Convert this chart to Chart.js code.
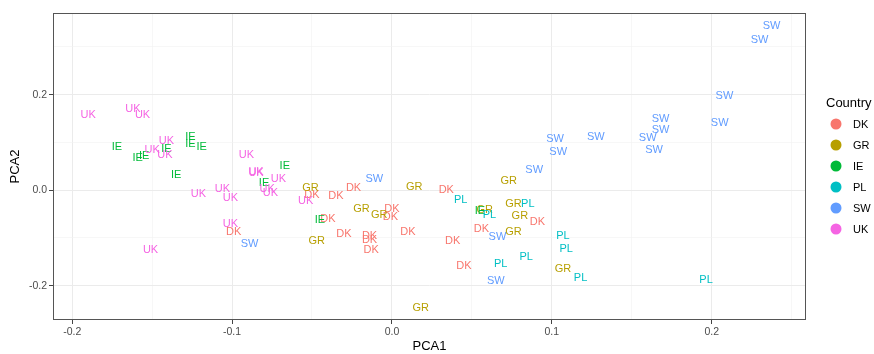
<!DOCTYPE html>
<html>
<head>
<meta charset="utf-8">
<script src="https://cdn.jsdelivr.net/npm/chart.js@4"></script>
<style>
  html, body { margin: 0; padding: 0; background: #fff; }
  #wrap { width: 874px; height: 354px; }
</style>
</head>
<body>
<div id="wrap"><canvas id="pcaChart" width="874" height="354"></canvas></div>
<script>
// PCA scores, one list of [PCA1, PCA2] per country
const countries = ['DK', 'GR', 'IE', 'PL', 'SW', 'UK'];
const colors = ['#F8766D', '#B79F00', '#00BA38', '#00BFC4', '#619CFF', '#F564E3'];

const dk = [[-0.050, -0.011], [-0.035, -0.013], [-0.024, 0.004], [0.034, 0.001], [0.000, -0.040],
  [-0.001, -0.056], [-0.040, -0.060], [-0.030, -0.091], [-0.014, -0.097], [-0.014, -0.105],
  [-0.013, -0.126], [0.010, -0.088], [0.038, -0.107], [0.045, -0.159], [0.091, -0.066],
  [0.056, -0.081], [-0.099, -0.088]];
const gr = [[-0.051, 0.004], [0.014, 0.006], [-0.019, -0.039], [-0.008, -0.053], [-0.047, -0.106],
  [0.018, -0.246], [0.073, 0.020], [0.058, -0.041], [0.076, -0.029], [0.080, -0.055],
  [0.076, -0.088], [0.107, -0.165]];
const ie = [[-0.172, 0.091], [-0.126, 0.111], [-0.126, 0.096], [-0.119, 0.091], [-0.141, 0.086],
  [-0.159, 0.067], [-0.155, 0.072], [-0.067, 0.051], [-0.135, 0.032], [-0.080, 0.016],
  [-0.045, -0.063], [0.055, -0.044]];
const pl = [[0.043, -0.020], [0.061, -0.053], [0.085, -0.030], [0.107, -0.095], [0.109, -0.124],
  [0.118, -0.184], [0.1965, -0.188], [0.068, -0.155], [0.084, -0.140]];
const sw = [[-0.011, 0.023], [-0.089, -0.112], [0.089, 0.043], [0.104, 0.080], [0.102, 0.107],
  [0.1275, 0.112], [0.160, 0.110], [0.164, 0.084], [0.168, 0.149], [0.168, 0.126],
  [0.205, 0.140], [0.208, 0.197], [0.230, 0.315], [0.2375, 0.343], [0.066, -0.098],
  [0.065, -0.191]];
const uk = [[-0.190, 0.158], [-0.162, 0.170], [-0.156, 0.158], [-0.141, 0.102], [-0.150, 0.084],
  [-0.142, 0.074], [-0.091, 0.074], [-0.085, 0.037], [-0.085, 0.036], [-0.071, 0.023],
  [-0.078, 0.003], [-0.076, -0.005], [-0.121, -0.008], [-0.106, 0.002], [-0.101, -0.016],
  [-0.054, -0.022], [-0.101, -0.071], [-0.151, -0.126]];
const scores = [dk, gr, ie, pl, sw, uk];

// axis breaks (major ones get labels)
const xTicks = [-0.2, -0.15, -0.1, -0.05, 0, 0.05, 0.1, 0.15, 0.2, 0.25];
const xLabels = ['-0.2', '', '-0.1', '', '0.0', '', '0.1', '', '0.2', ''];
const yTicks = [-0.2, -0.1, 0, 0.1, 0.2, 0.3];
const yLabels = ['-0.2', '', '0.0', '', '0.2', ''];

const FONT = '"Liberation Sans", Arial, Helvetica, sans-serif';

function gridColor(labels) {
  return ctx => labels[ctx.index] ? '#EBEBEB' : '#F2F2F2';
}
function gridWidth(labels) {
  return ctx => labels[ctx.index] ? 1 : 0.6;
}
function tickMark(labels) {
  return ctx => labels[ctx.index] ? '#444444' : 'rgba(0,0,0,0)';
}

// draw the country codes at each point, panel border and legend
const textLabels = {
  id: 'textLabels',
  afterDatasetsDraw(chart) {
    const ctx = chart.ctx;
    ctx.save();
    ctx.font = '11px ' + FONT;
    ctx.textAlign = 'center';
    ctx.textBaseline = 'middle';
    chart.data.datasets.forEach((ds, i) => {
      ctx.fillStyle = ds.borderColor;
      chart.getDatasetMeta(i).data.forEach(pt => ctx.fillText(ds.label, pt.x, pt.y));
    });
    ctx.restore();
  },
  afterDraw(chart) {
    const ctx = chart.ctx;
    const a = chart.chartArea;
    ctx.save();
    ctx.strokeStyle = '#555555';
    ctx.lineWidth = 1;
    ctx.strokeRect(Math.round(a.left) + 0.5, Math.round(a.top) + 0.5,
      Math.round(a.right - a.left) - 1, Math.round(a.bottom - a.top) - 1);

    // legend
    ctx.fillStyle = '#000';
    ctx.font = '13px ' + FONT;
    ctx.textAlign = 'left';
    ctx.textBaseline = 'middle';
    ctx.fillText('Country', 826, 103);
    ctx.font = '11px ' + FONT;
    countries.forEach((c, i) => {
      const y = 124 + i * 21;
      ctx.fillStyle = colors[i];
      ctx.beginPath();
      ctx.arc(836, y, 5.5, 0, Math.PI * 2);
      ctx.fill();
      ctx.fillStyle = '#000';
      ctx.fillText(c, 853, y + 0.5);
    });
    ctx.restore();
  }
};

new Chart(document.getElementById('pcaChart'), {
  type: 'scatter',
  data: {
    datasets: countries.map((c, i) => ({
      label: c,
      data: scores[i].map(p => ({ x: p[0], y: p[1] })),
      borderColor: colors[i],
      backgroundColor: colors[i],
      pointRadius: 0
    }))
  },
  options: {
    responsive: false,
    animation: false,
    events: [],
    layout: { padding: { top: 13, right: 68, left: 0, bottom: 0 } },
    plugins: { legend: { display: false }, tooltip: { enabled: false } },
    scales: {
      x: {
        type: 'linear',
        min: -0.212,
        max: 0.259,
        afterBuildTicks: s => { s.ticks = xTicks.map(v => ({ value: v })); },
        afterFit: s => { s.height = 34; },
        ticks: {
          autoSkip: false,
          maxRotation: 0,
          padding: 2,
          color: '#4D4D4D',
          font: { family: FONT, size: 10.5 },
          callback: (v, i) => xLabels[i]
        },
        grid: {
          color: gridColor(xLabels),
          lineWidth: gridWidth(xLabels),
          tickColor: tickMark(xLabels),
          tickWidth: 1,
          tickLength: 4
        },
        border: { display: false },
        title: {
          display: true,
          text: 'PCA1',
          color: '#000',
          font: { family: FONT, size: 13 },
          padding: { top: 0, bottom: 0 }
        }
      },
      y: {
        type: 'linear',
        min: -0.272,
        max: 0.371,
        afterBuildTicks: s => { s.ticks = yTicks.map(v => ({ value: v })); },
        afterFit: s => { s.width = 53; },
        ticks: {
          autoSkip: false,
          padding: 2,
          color: '#4D4D4D',
          font: { family: FONT, size: 10.5 },
          callback: (v, i) => yLabels[i]
        },
        grid: {
          color: gridColor(yLabels),
          lineWidth: gridWidth(yLabels),
          tickColor: tickMark(yLabels),
          tickWidth: 1,
          tickLength: 4
        },
        border: { display: false },
        title: {
          display: true,
          text: 'PCA2',
          color: '#000',
          font: { family: FONT, size: 13 },
          padding: { top: 8, bottom: 0 }
        }
      }
    }
  },
  plugins: [textLabels]
});
</script>
</body>
</html>
